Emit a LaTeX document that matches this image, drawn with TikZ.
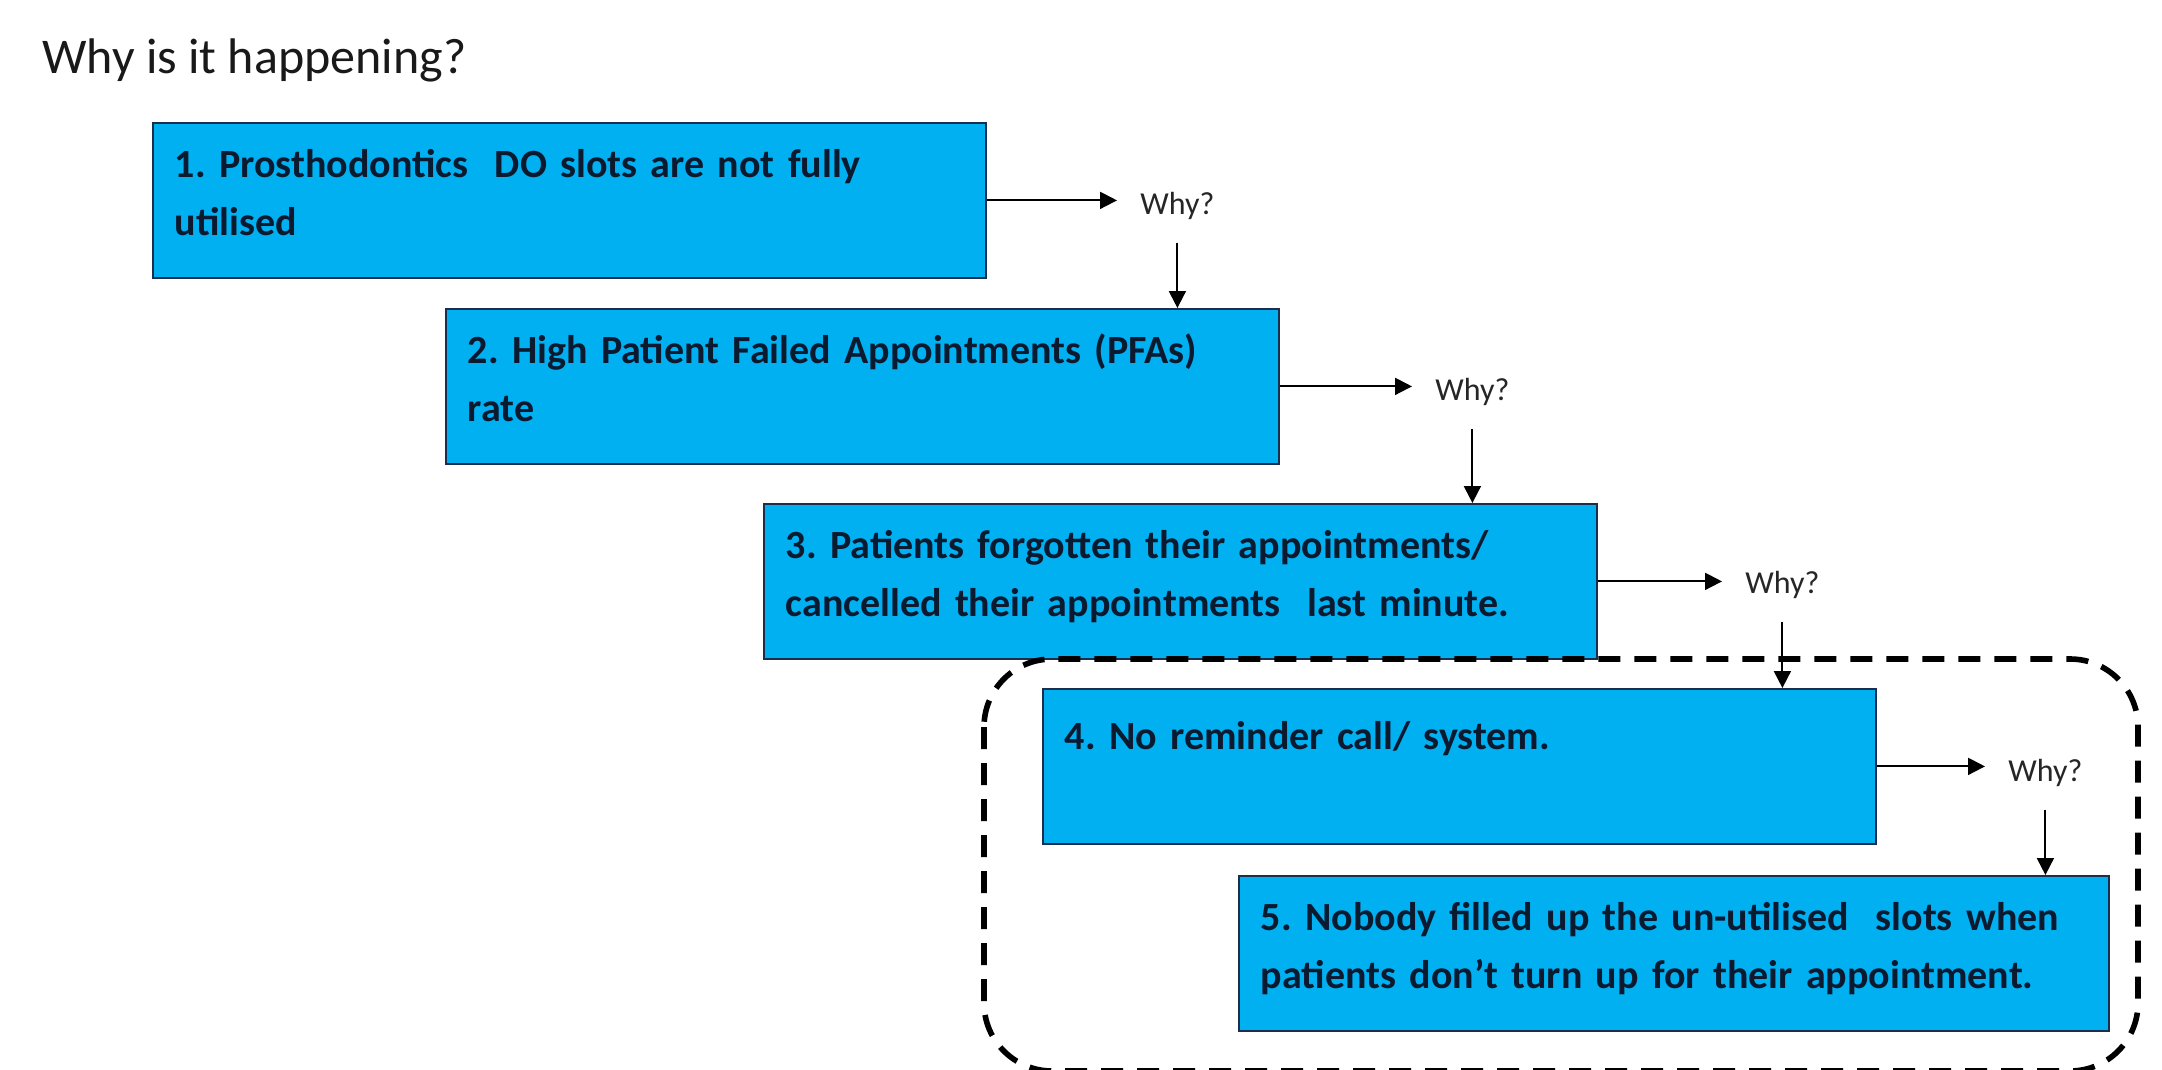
\documentclass[tikz,border=0pt]{standalone}
\usepackage{fontspec}
\setmainfont{Carlito}
\usepackage{tikz}
\usetikzlibrary{arrows.meta}

\definecolor{boxblue}{HTML}{00B0F0}
\definecolor{boxline}{HTML}{1B2F4D}
\definecolor{boxtext}{HTML}{0C1A30}

\tikzset{
    whybox/.style={draw=boxline, line width=0.9pt, fill=boxblue, anchor=north west,
        minimum width=416.5pt, minimum height=77.5pt, text width=394.5pt,
        inner xsep=11pt, inner ysep=0pt, align=left, text=boxtext,
        text height=14pt, text depth=37pt,
        font=\fontsize{20pt}{29pt}\selectfont\bfseries\frenchspacing},
    whylabel/.style={anchor=base west, inner sep=11.5pt, text=black!85,
        font=\fontsize{16pt}{19pt}\selectfont},
    whyarrow/.style={line width=1pt, -{Triangle[length=8.5pt,width=8.5pt]}}
}

\begin{document}
\begin{tikzpicture}[x=0.5pt,y=-0.5pt]
        \useasboundingbox (0,0) rectangle (2162,1070);

        % Title
        \node[anchor=base west, inner sep=0pt, text=black!90,
            font=\fontsize{25pt}{30pt}\selectfont] (title) at (42,74) {Why is it happening?};

        % Draw the five boxes
        \node[whybox] (b1) at (152,122) {1. Prosthodontics\ \ DO slots are not fully\\utilised};
        \node[whybox] (b2) at (445,308) {2. High Patient Failed Appointments (PFAs)\\rate};
        \node[whybox] (b3) at (763,503) {3. Patients forgotten their appointments/\\cancelled their appointments\ \ last minute.};
        \node[whybox, text depth=31pt] (b4) at (1042,688) {4. No reminder call/ system.};
        \node[whybox, minimum width=435pt, text width=413pt] (b5) at (1238,875)
            {5. Nobody filled up the un-utilised\ \ slots when\\patients don’t turn up for their appointment.};

        % Draw the Why? labels
        \node[whylabel] (w1) at (1117,214) {Why?};
        \node[whylabel] (w2) at (1412,400) {Why?};
        \node[whylabel] (w3) at (1722,593) {Why?};
        \node[whylabel] (w4) at (1985,781) {Why?};

        % Draw the arrows
        \foreach \i/\j in {1/2,2/3,3/4,4/5}{
            \draw[whyarrow] (b\i.east) -- (b\i.east -| w\i.west);
            \draw[whyarrow] (w\i.south) -- (w\i.south |- b\j.north);
        }

        % Draw the dashed frame
        \draw[line width=2.8pt, dash pattern=on 11pt off 7pt, rounded corners=34pt]
            (984,659) rectangle (2138,1071);
    \end{tikzpicture}
\end{document}
